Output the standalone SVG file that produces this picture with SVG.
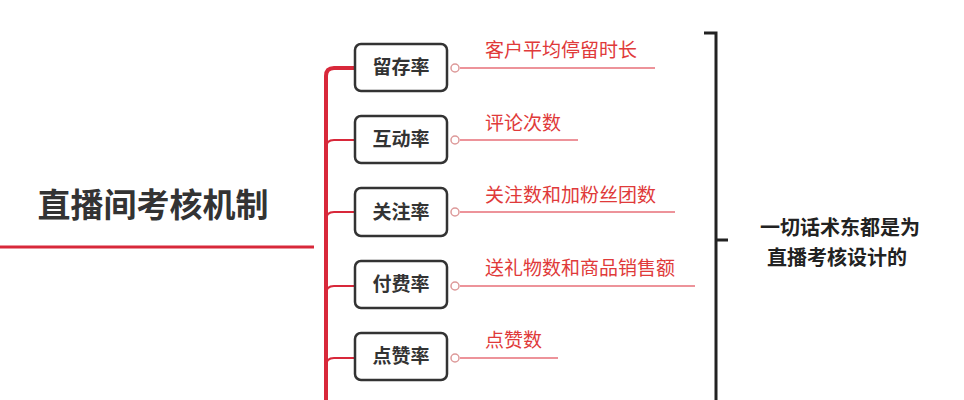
<svg xmlns="http://www.w3.org/2000/svg" width="964" height="400" viewBox="0 0 964 400">
<style>
.box{fill:#fff;stroke:#333;stroke-width:2.5}
.bt{font-family:"Noto Sans CJK SC",sans-serif;font-size:19px;font-weight:bold;fill:#333;text-anchor:middle}
.lt{font-family:"Noto Sans CJK SC",sans-serif;font-size:19px;fill:#e03a3a}
.red{stroke:#d8283a;fill:none}
.thin{stroke:#e8707a;stroke-width:1.5;fill:none}
.dot{fill:#fff;stroke:#d99;stroke-width:1.5}
</style>
<rect width="964" height="400" fill="#fff"/>
<g id="title"><text x="153" y="217" font-family="Noto Sans CJK SC,sans-serif" font-size="33" font-weight="bold" fill="#333" text-anchor="middle">直播间考核机制</text></g>
<g id="connectors">
<path class="red" stroke-width="3" d="M0 247H314"/>
<path class="red" stroke-width="4" d="M326 400V76Q326 68 334 68H355"/>
<path class="red" stroke-width="2" d="M326 148Q326 140 334 140H355M326 220Q326 212 334 212H355M326 294Q326 286 334 286H355M326 366Q326 358 334 358H355"/>
<path class="thin" d="M460 68H655M460 140H578M460 212H675M460 286H695M460 358H558"/>
<circle class="dot" cx="455" cy="68" r="4"/><circle class="dot" cx="455" cy="140" r="4"/><circle class="dot" cx="455" cy="212" r="4"/><circle class="dot" cx="455" cy="286" r="4"/><circle class="dot" cx="455" cy="358" r="4"/>
<path d="M704 33H716V400M716 240H728" stroke="#222" stroke-width="3" fill="none"/>
</g>
<g id="n1"><rect class="box" x="355" y="44" width="92" height="47" rx="6"/><text class="bt" x="401" y="74">留存率</text><text class="lt" x="485" y="57">客户平均停留时长</text></g>
<g id="n2"><rect class="box" x="355" y="116" width="92" height="47" rx="6"/><text class="bt" x="401" y="146">互动率</text><text class="lt" x="485" y="130">评论次数</text></g>
<g id="n3"><rect class="box" x="355" y="188" width="92" height="48" rx="6"/><text class="bt" x="401" y="219">关注率</text><text class="lt" x="485" y="202">关注数和加粉丝团数</text></g>
<g id="n4"><rect class="box" x="355" y="261" width="92" height="47" rx="6"/><text class="bt" x="401" y="291">付费率</text><text class="lt" x="485" y="275">送礼物数和商品销售额</text></g>
<g id="n5"><rect class="box" x="355" y="333" width="92" height="47" rx="6"/><text class="bt" x="401" y="363">点赞率</text><text class="lt" x="485" y="347">点赞数</text></g>
<g id="note" font-family="Noto Sans CJK SC,sans-serif" font-size="20" font-weight="bold" fill="#222">
<text x="760" y="235">一切话术东都是为</text><text x="767" y="265">直播考核设计的</text></g>
</svg>
